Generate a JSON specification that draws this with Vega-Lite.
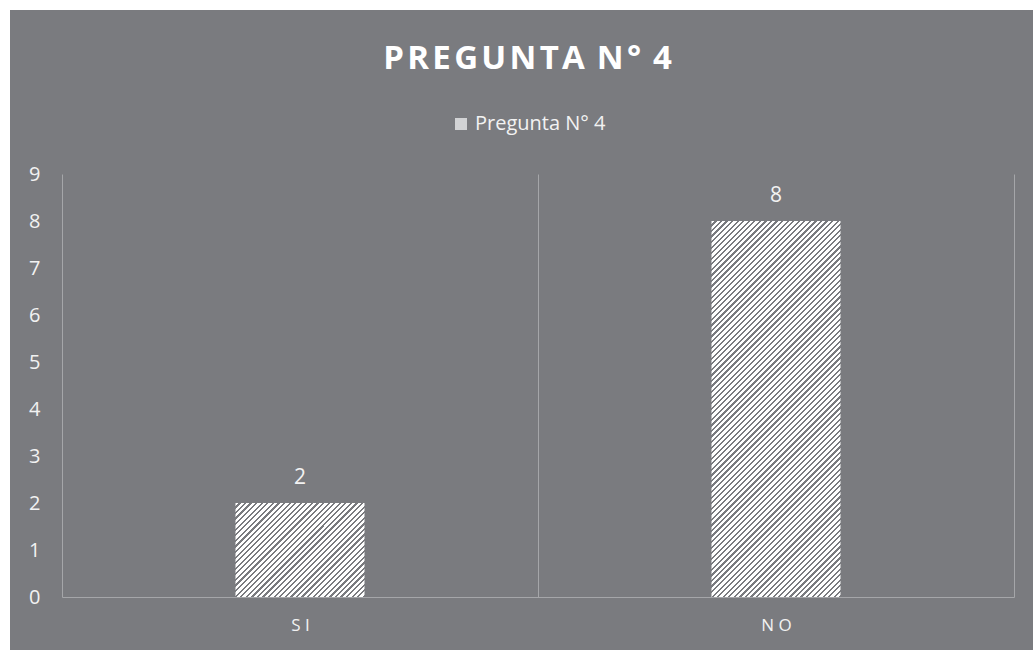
{
  "$schema": "https://vega.github.io/schema/vega-lite/v6.json",
  "width": 1023,
  "height": 640,
  "autosize": {"type": "none"},
  "padding": {"left": 10, "top": 10, "right": 0, "bottom": 0},
  "background": "#ffffff",
  "title": {
    "text": "P\u200aR\u200aE\u200aG\u200aU\u200aN\u200aT\u200aA\u200a N\u200a°\u200a 4",
    "font": "Open Sans",
    "fontSize": 33,
    "fontWeight": "bold",
    "color": "#ffffff",
    "anchor": "middle",
    "frame": "group",
    "baseline": "alphabetic",
    "offset": -92,
    "dx": 6
  },
  "data": {
    "values": [
      {"respuesta": "SI", "cantidad": 2},
      {"respuesta": "NO", "cantidad": 8}
    ]
  },
  "encoding": {
    "x": {
      "field": "respuesta", "type": "nominal",
      "scale": {"domain": ["SI", "NO"], "range": [52, 1004], "paddingInner": 0, "paddingOuter": 0},
      "axis": {
        "title": null, "orient": "top", "offset": -587,
        "domain": true, "domainColor": "#a5a6a9", "domainWidth": 1,
        "ticks": false, "grid": true, "gridColor": "#a5a6a9", "gridWidth": 1, "tickBand": "extent",
        "labelAngle": 0, "labelPadding": -20, "labelBaseline": "top",
        "labelFont": "Open Sans", "labelFontSize": 17, "labelColor": "#f2f2f2",
        "labelExpr": "join(split(datum.label, ''), ' ')"
      }
    },
    "y": {
      "field": "cantidad", "type": "quantitative",
      "scale": {"domain": [0, 9], "range": [587, 164], "nice": false, "zero": true},
      "axis": {
        "title": null, "orient": "left", "offset": -40,
        "domain": false, "ticks": false, "grid": false,
        "values": [0, 1, 2, 3, 4, 5, 6, 7, 8, 9],
        "labelPadding": 10,
        "labelFont": "Open Sans", "labelFontSize": 20, "labelColor": "#f2f2f2"
      }
    }
  },
  "layer": [
    {
      "mark": {"type": "bar", "width": {"band": 0.271}, "strokeWidth": 0},
      "encoding": {
        "color": {
          "datum": "Pregunta N° 4", "type": "nominal",
          "scale": {"range": ["#d2d3d5"]},
          "legend": {
            "title": null, "orient": "none", "legendX": 441, "legendY": 104,
            "padding": 0, "symbolType": "square", "symbolSize": 144,
            "symbolStrokeWidth": 0, "symbolOpacity": 1, "labelOffset": 4,
            "labelFont": "Open Sans", "labelFontSize": 20, "labelColor": "#f2f2f2"
          },
          "condition": [
            {
              "test": "datum.respuesta === 'SI'",
              "value": {
                "gradient": "linear", "x1": 0, "y1": 0, "x2": 1.12914, "y2": 0.82279,
                "stops": [
                  {"offset":0,"color":"#fff"},{"offset":0.015,"color":"#fff"},{"offset":0.015,"color":"#7a7b7f"},{"offset":0.025,"color":"#7a7b7f"},
                  {"offset":0.025,"color":"#fff"},{"offset":0.04,"color":"#fff"},{"offset":0.04,"color":"#7a7b7f"},{"offset":0.05,"color":"#7a7b7f"},
                  {"offset":0.05,"color":"#fff"},{"offset":0.065,"color":"#fff"},{"offset":0.065,"color":"#7a7b7f"},{"offset":0.075,"color":"#7a7b7f"},
                  {"offset":0.075,"color":"#fff"},{"offset":0.09,"color":"#fff"},{"offset":0.09,"color":"#7a7b7f"},{"offset":0.1,"color":"#7a7b7f"},
                  {"offset":0.1,"color":"#fff"},{"offset":0.115,"color":"#fff"},{"offset":0.115,"color":"#7a7b7f"},{"offset":0.125,"color":"#7a7b7f"},
                  {"offset":0.125,"color":"#fff"},{"offset":0.14,"color":"#fff"},{"offset":0.14,"color":"#7a7b7f"},{"offset":0.15,"color":"#7a7b7f"},
                  {"offset":0.15,"color":"#fff"},{"offset":0.165,"color":"#fff"},{"offset":0.165,"color":"#7a7b7f"},{"offset":0.175,"color":"#7a7b7f"},
                  {"offset":0.175,"color":"#fff"},{"offset":0.19,"color":"#fff"},{"offset":0.19,"color":"#7a7b7f"},{"offset":0.2,"color":"#7a7b7f"},
                  {"offset":0.2,"color":"#fff"},{"offset":0.215,"color":"#fff"},{"offset":0.215,"color":"#7a7b7f"},{"offset":0.225,"color":"#7a7b7f"},
                  {"offset":0.225,"color":"#fff"},{"offset":0.24,"color":"#fff"},{"offset":0.24,"color":"#7a7b7f"},{"offset":0.25,"color":"#7a7b7f"},
                  {"offset":0.25,"color":"#fff"},{"offset":0.265,"color":"#fff"},{"offset":0.265,"color":"#7a7b7f"},{"offset":0.275,"color":"#7a7b7f"},
                  {"offset":0.275,"color":"#fff"},{"offset":0.29,"color":"#fff"},{"offset":0.29,"color":"#7a7b7f"},{"offset":0.3,"color":"#7a7b7f"},
                  {"offset":0.3,"color":"#fff"},{"offset":0.315,"color":"#fff"},{"offset":0.315,"color":"#7a7b7f"},{"offset":0.325,"color":"#7a7b7f"},
                  {"offset":0.325,"color":"#fff"},{"offset":0.34,"color":"#fff"},{"offset":0.34,"color":"#7a7b7f"},{"offset":0.35,"color":"#7a7b7f"},
                  {"offset":0.35,"color":"#fff"},{"offset":0.365,"color":"#fff"},{"offset":0.365,"color":"#7a7b7f"},{"offset":0.375,"color":"#7a7b7f"},
                  {"offset":0.375,"color":"#fff"},{"offset":0.39,"color":"#fff"},{"offset":0.39,"color":"#7a7b7f"},{"offset":0.4,"color":"#7a7b7f"},
                  {"offset":0.4,"color":"#fff"},{"offset":0.415,"color":"#fff"},{"offset":0.415,"color":"#7a7b7f"},{"offset":0.425,"color":"#7a7b7f"},
                  {"offset":0.425,"color":"#fff"},{"offset":0.44,"color":"#fff"},{"offset":0.44,"color":"#7a7b7f"},{"offset":0.45,"color":"#7a7b7f"},
                  {"offset":0.45,"color":"#fff"},{"offset":0.465,"color":"#fff"},{"offset":0.465,"color":"#7a7b7f"},{"offset":0.475,"color":"#7a7b7f"},
                  {"offset":0.475,"color":"#fff"},{"offset":0.49,"color":"#fff"},{"offset":0.49,"color":"#7a7b7f"},{"offset":0.5,"color":"#7a7b7f"},
                  {"offset":0.5,"color":"#fff"},{"offset":0.515,"color":"#fff"},{"offset":0.515,"color":"#7a7b7f"},{"offset":0.525,"color":"#7a7b7f"},
                  {"offset":0.525,"color":"#fff"},{"offset":0.54,"color":"#fff"},{"offset":0.54,"color":"#7a7b7f"},{"offset":0.55,"color":"#7a7b7f"},
                  {"offset":0.55,"color":"#fff"},{"offset":0.565,"color":"#fff"},{"offset":0.565,"color":"#7a7b7f"},{"offset":0.575,"color":"#7a7b7f"},
                  {"offset":0.575,"color":"#fff"},{"offset":0.59,"color":"#fff"},{"offset":0.59,"color":"#7a7b7f"},{"offset":0.6,"color":"#7a7b7f"},
                  {"offset":0.6,"color":"#fff"},{"offset":0.615,"color":"#fff"},{"offset":0.615,"color":"#7a7b7f"},{"offset":0.625,"color":"#7a7b7f"},
                  {"offset":0.625,"color":"#fff"},{"offset":0.64,"color":"#fff"},{"offset":0.64,"color":"#7a7b7f"},{"offset":0.65,"color":"#7a7b7f"},
                  {"offset":0.65,"color":"#fff"},{"offset":0.665,"color":"#fff"},{"offset":0.665,"color":"#7a7b7f"},{"offset":0.675,"color":"#7a7b7f"},
                  {"offset":0.675,"color":"#fff"},{"offset":0.69,"color":"#fff"},{"offset":0.69,"color":"#7a7b7f"},{"offset":0.7,"color":"#7a7b7f"},
                  {"offset":0.7,"color":"#fff"},{"offset":0.715,"color":"#fff"},{"offset":0.715,"color":"#7a7b7f"},{"offset":0.725,"color":"#7a7b7f"},
                  {"offset":0.725,"color":"#fff"},{"offset":0.74,"color":"#fff"},{"offset":0.74,"color":"#7a7b7f"},{"offset":0.75,"color":"#7a7b7f"},
                  {"offset":0.75,"color":"#fff"},{"offset":0.765,"color":"#fff"},{"offset":0.765,"color":"#7a7b7f"},{"offset":0.775,"color":"#7a7b7f"},
                  {"offset":0.775,"color":"#fff"},{"offset":0.79,"color":"#fff"},{"offset":0.79,"color":"#7a7b7f"},{"offset":0.8,"color":"#7a7b7f"},
                  {"offset":0.8,"color":"#fff"},{"offset":0.815,"color":"#fff"},{"offset":0.815,"color":"#7a7b7f"},{"offset":0.825,"color":"#7a7b7f"},
                  {"offset":0.825,"color":"#fff"},{"offset":0.84,"color":"#fff"},{"offset":0.84,"color":"#7a7b7f"},{"offset":0.85,"color":"#7a7b7f"},
                  {"offset":0.85,"color":"#fff"},{"offset":0.865,"color":"#fff"},{"offset":0.865,"color":"#7a7b7f"},{"offset":0.875,"color":"#7a7b7f"},
                  {"offset":0.875,"color":"#fff"},{"offset":0.89,"color":"#fff"},{"offset":0.89,"color":"#7a7b7f"},{"offset":0.9,"color":"#7a7b7f"},
                  {"offset":0.9,"color":"#fff"},{"offset":0.915,"color":"#fff"},{"offset":0.915,"color":"#7a7b7f"},{"offset":0.925,"color":"#7a7b7f"},
                  {"offset":0.925,"color":"#fff"},{"offset":0.94,"color":"#fff"},{"offset":0.94,"color":"#7a7b7f"},{"offset":0.95,"color":"#7a7b7f"},
                  {"offset":0.95,"color":"#fff"},{"offset":0.965,"color":"#fff"},{"offset":0.965,"color":"#7a7b7f"},{"offset":0.975,"color":"#7a7b7f"},
                  {"offset":0.975,"color":"#fff"},{"offset":0.99,"color":"#fff"},{"offset":0.99,"color":"#7a7b7f"},{"offset":1,"color":"#7a7b7f"}
                ]
              }
            },
            {
              "test": "datum.respuesta === 'NO'",
              "value": {
                "gradient": "linear", "x1": 0, "y1": 0, "x2": 0.41227, "y2": 1.20165,
                "stops": [
                  {"offset":0,"color":"#fff"},{"offset":0.0066,"color":"#fff"},{"offset":0.0066,"color":"#7a7b7f"},{"offset":0.011,"color":"#7a7b7f"},
                  {"offset":0.011,"color":"#fff"},{"offset":0.0176,"color":"#fff"},{"offset":0.0176,"color":"#7a7b7f"},{"offset":0.022,"color":"#7a7b7f"},
                  {"offset":0.022,"color":"#fff"},{"offset":0.0286,"color":"#fff"},{"offset":0.0286,"color":"#7a7b7f"},{"offset":0.033,"color":"#7a7b7f"},
                  {"offset":0.033,"color":"#fff"},{"offset":0.0396,"color":"#fff"},{"offset":0.0396,"color":"#7a7b7f"},{"offset":0.044,"color":"#7a7b7f"},
                  {"offset":0.044,"color":"#fff"},{"offset":0.0506,"color":"#fff"},{"offset":0.0506,"color":"#7a7b7f"},{"offset":0.055,"color":"#7a7b7f"},
                  {"offset":0.055,"color":"#fff"},{"offset":0.0616,"color":"#fff"},{"offset":0.0616,"color":"#7a7b7f"},{"offset":0.066,"color":"#7a7b7f"},
                  {"offset":0.066,"color":"#fff"},{"offset":0.0726,"color":"#fff"},{"offset":0.0726,"color":"#7a7b7f"},{"offset":0.077,"color":"#7a7b7f"},
                  {"offset":0.077,"color":"#fff"},{"offset":0.0836,"color":"#fff"},{"offset":0.0836,"color":"#7a7b7f"},{"offset":0.088,"color":"#7a7b7f"},
                  {"offset":0.088,"color":"#fff"},{"offset":0.0946,"color":"#fff"},{"offset":0.0946,"color":"#7a7b7f"},{"offset":0.099,"color":"#7a7b7f"},
                  {"offset":0.099,"color":"#fff"},{"offset":0.1056,"color":"#fff"},{"offset":0.1056,"color":"#7a7b7f"},{"offset":0.11,"color":"#7a7b7f"},
                  {"offset":0.11,"color":"#fff"},{"offset":0.1166,"color":"#fff"},{"offset":0.1166,"color":"#7a7b7f"},{"offset":0.121,"color":"#7a7b7f"},
                  {"offset":0.121,"color":"#fff"},{"offset":0.1276,"color":"#fff"},{"offset":0.1276,"color":"#7a7b7f"},{"offset":0.132,"color":"#7a7b7f"},
                  {"offset":0.132,"color":"#fff"},{"offset":0.1386,"color":"#fff"},{"offset":0.1386,"color":"#7a7b7f"},{"offset":0.143,"color":"#7a7b7f"},
                  {"offset":0.143,"color":"#fff"},{"offset":0.1496,"color":"#fff"},{"offset":0.1496,"color":"#7a7b7f"},{"offset":0.154,"color":"#7a7b7f"},
                  {"offset":0.154,"color":"#fff"},{"offset":0.1606,"color":"#fff"},{"offset":0.1606,"color":"#7a7b7f"},{"offset":0.165,"color":"#7a7b7f"},
                  {"offset":0.165,"color":"#fff"},{"offset":0.1716,"color":"#fff"},{"offset":0.1716,"color":"#7a7b7f"},{"offset":0.176,"color":"#7a7b7f"},
                  {"offset":0.176,"color":"#fff"},{"offset":0.1826,"color":"#fff"},{"offset":0.1826,"color":"#7a7b7f"},{"offset":0.187,"color":"#7a7b7f"},
                  {"offset":0.187,"color":"#fff"},{"offset":0.1936,"color":"#fff"},{"offset":0.1936,"color":"#7a7b7f"},{"offset":0.198,"color":"#7a7b7f"},
                  {"offset":0.198,"color":"#fff"},{"offset":0.2046,"color":"#fff"},{"offset":0.2046,"color":"#7a7b7f"},{"offset":0.209,"color":"#7a7b7f"},
                  {"offset":0.209,"color":"#fff"},{"offset":0.2156,"color":"#fff"},{"offset":0.2156,"color":"#7a7b7f"},{"offset":0.22,"color":"#7a7b7f"},
                  {"offset":0.22,"color":"#fff"},{"offset":0.2266,"color":"#fff"},{"offset":0.2266,"color":"#7a7b7f"},{"offset":0.231,"color":"#7a7b7f"},
                  {"offset":0.231,"color":"#fff"},{"offset":0.2376,"color":"#fff"},{"offset":0.2376,"color":"#7a7b7f"},{"offset":0.242,"color":"#7a7b7f"},
                  {"offset":0.242,"color":"#fff"},{"offset":0.2486,"color":"#fff"},{"offset":0.2486,"color":"#7a7b7f"},{"offset":0.253,"color":"#7a7b7f"},
                  {"offset":0.253,"color":"#fff"},{"offset":0.2596,"color":"#fff"},{"offset":0.2596,"color":"#7a7b7f"},{"offset":0.264,"color":"#7a7b7f"},
                  {"offset":0.264,"color":"#fff"},{"offset":0.2706,"color":"#fff"},{"offset":0.2706,"color":"#7a7b7f"},{"offset":0.275,"color":"#7a7b7f"},
                  {"offset":0.275,"color":"#fff"},{"offset":0.2816,"color":"#fff"},{"offset":0.2816,"color":"#7a7b7f"},{"offset":0.286,"color":"#7a7b7f"},
                  {"offset":0.286,"color":"#fff"},{"offset":0.2926,"color":"#fff"},{"offset":0.2926,"color":"#7a7b7f"},{"offset":0.297,"color":"#7a7b7f"},
                  {"offset":0.297,"color":"#fff"},{"offset":0.3036,"color":"#fff"},{"offset":0.3036,"color":"#7a7b7f"},{"offset":0.308,"color":"#7a7b7f"},
                  {"offset":0.308,"color":"#fff"},{"offset":0.3146,"color":"#fff"},{"offset":0.3146,"color":"#7a7b7f"},{"offset":0.319,"color":"#7a7b7f"},
                  {"offset":0.319,"color":"#fff"},{"offset":0.3256,"color":"#fff"},{"offset":0.3256,"color":"#7a7b7f"},{"offset":0.33,"color":"#7a7b7f"},
                  {"offset":0.33,"color":"#fff"},{"offset":0.3366,"color":"#fff"},{"offset":0.3366,"color":"#7a7b7f"},{"offset":0.341,"color":"#7a7b7f"},
                  {"offset":0.341,"color":"#fff"},{"offset":0.3476,"color":"#fff"},{"offset":0.3476,"color":"#7a7b7f"},{"offset":0.352,"color":"#7a7b7f"},
                  {"offset":0.352,"color":"#fff"},{"offset":0.3586,"color":"#fff"},{"offset":0.3586,"color":"#7a7b7f"},{"offset":0.363,"color":"#7a7b7f"},
                  {"offset":0.363,"color":"#fff"},{"offset":0.3696,"color":"#fff"},{"offset":0.3696,"color":"#7a7b7f"},{"offset":0.374,"color":"#7a7b7f"},
                  {"offset":0.374,"color":"#fff"},{"offset":0.3806,"color":"#fff"},{"offset":0.3806,"color":"#7a7b7f"},{"offset":0.385,"color":"#7a7b7f"},
                  {"offset":0.385,"color":"#fff"},{"offset":0.3916,"color":"#fff"},{"offset":0.3916,"color":"#7a7b7f"},{"offset":0.396,"color":"#7a7b7f"},
                  {"offset":0.396,"color":"#fff"},{"offset":0.4026,"color":"#fff"},{"offset":0.4026,"color":"#7a7b7f"},{"offset":0.407,"color":"#7a7b7f"},
                  {"offset":0.407,"color":"#fff"},{"offset":0.4136,"color":"#fff"},{"offset":0.4136,"color":"#7a7b7f"},{"offset":0.418,"color":"#7a7b7f"},
                  {"offset":0.418,"color":"#fff"},{"offset":0.4246,"color":"#fff"},{"offset":0.4246,"color":"#7a7b7f"},{"offset":0.429,"color":"#7a7b7f"},
                  {"offset":0.429,"color":"#fff"},{"offset":0.4356,"color":"#fff"},{"offset":0.4356,"color":"#7a7b7f"},{"offset":0.44,"color":"#7a7b7f"},
                  {"offset":0.44,"color":"#fff"},{"offset":0.4466,"color":"#fff"},{"offset":0.4466,"color":"#7a7b7f"},{"offset":0.451,"color":"#7a7b7f"},
                  {"offset":0.451,"color":"#fff"},{"offset":0.4576,"color":"#fff"},{"offset":0.4576,"color":"#7a7b7f"},{"offset":0.462,"color":"#7a7b7f"},
                  {"offset":0.462,"color":"#fff"},{"offset":0.4686,"color":"#fff"},{"offset":0.4686,"color":"#7a7b7f"},{"offset":0.473,"color":"#7a7b7f"},
                  {"offset":0.473,"color":"#fff"},{"offset":0.4796,"color":"#fff"},{"offset":0.4796,"color":"#7a7b7f"},{"offset":0.484,"color":"#7a7b7f"},
                  {"offset":0.484,"color":"#fff"},{"offset":0.4906,"color":"#fff"},{"offset":0.4906,"color":"#7a7b7f"},{"offset":0.495,"color":"#7a7b7f"},
                  {"offset":0.495,"color":"#fff"},{"offset":0.5016,"color":"#fff"},{"offset":0.5016,"color":"#7a7b7f"},{"offset":0.506,"color":"#7a7b7f"},
                  {"offset":0.506,"color":"#fff"},{"offset":0.5126,"color":"#fff"},{"offset":0.5126,"color":"#7a7b7f"},{"offset":0.517,"color":"#7a7b7f"},
                  {"offset":0.517,"color":"#fff"},{"offset":0.5236,"color":"#fff"},{"offset":0.5236,"color":"#7a7b7f"},{"offset":0.528,"color":"#7a7b7f"},
                  {"offset":0.528,"color":"#fff"},{"offset":0.5346,"color":"#fff"},{"offset":0.5346,"color":"#7a7b7f"},{"offset":0.539,"color":"#7a7b7f"},
                  {"offset":0.539,"color":"#fff"},{"offset":0.5456,"color":"#fff"},{"offset":0.5456,"color":"#7a7b7f"},{"offset":0.55,"color":"#7a7b7f"},
                  {"offset":0.55,"color":"#fff"},{"offset":0.5566,"color":"#fff"},{"offset":0.5566,"color":"#7a7b7f"},{"offset":0.561,"color":"#7a7b7f"},
                  {"offset":0.561,"color":"#fff"},{"offset":0.5676,"color":"#fff"},{"offset":0.5676,"color":"#7a7b7f"},{"offset":0.572,"color":"#7a7b7f"},
                  {"offset":0.572,"color":"#fff"},{"offset":0.5786,"color":"#fff"},{"offset":0.5786,"color":"#7a7b7f"},{"offset":0.583,"color":"#7a7b7f"},
                  {"offset":0.583,"color":"#fff"},{"offset":0.5896,"color":"#fff"},{"offset":0.5896,"color":"#7a7b7f"},{"offset":0.594,"color":"#7a7b7f"},
                  {"offset":0.594,"color":"#fff"},{"offset":0.6006,"color":"#fff"},{"offset":0.6006,"color":"#7a7b7f"},{"offset":0.605,"color":"#7a7b7f"},
                  {"offset":0.605,"color":"#fff"},{"offset":0.6116,"color":"#fff"},{"offset":0.6116,"color":"#7a7b7f"},{"offset":0.616,"color":"#7a7b7f"},
                  {"offset":0.616,"color":"#fff"},{"offset":0.6226,"color":"#fff"},{"offset":0.6226,"color":"#7a7b7f"},{"offset":0.627,"color":"#7a7b7f"},
                  {"offset":0.627,"color":"#fff"},{"offset":0.6336,"color":"#fff"},{"offset":0.6336,"color":"#7a7b7f"},{"offset":0.638,"color":"#7a7b7f"},
                  {"offset":0.638,"color":"#fff"},{"offset":0.6446,"color":"#fff"},{"offset":0.6446,"color":"#7a7b7f"},{"offset":0.649,"color":"#7a7b7f"},
                  {"offset":0.649,"color":"#fff"},{"offset":0.6556,"color":"#fff"},{"offset":0.6556,"color":"#7a7b7f"},{"offset":0.66,"color":"#7a7b7f"},
                  {"offset":0.66,"color":"#fff"},{"offset":0.6666,"color":"#fff"},{"offset":0.6666,"color":"#7a7b7f"},{"offset":0.671,"color":"#7a7b7f"},
                  {"offset":0.671,"color":"#fff"},{"offset":0.6776,"color":"#fff"},{"offset":0.6776,"color":"#7a7b7f"},{"offset":0.682,"color":"#7a7b7f"},
                  {"offset":0.682,"color":"#fff"},{"offset":0.6886,"color":"#fff"},{"offset":0.6886,"color":"#7a7b7f"},{"offset":0.693,"color":"#7a7b7f"},
                  {"offset":0.693,"color":"#fff"},{"offset":0.6996,"color":"#fff"},{"offset":0.6996,"color":"#7a7b7f"},{"offset":0.704,"color":"#7a7b7f"},
                  {"offset":0.704,"color":"#fff"},{"offset":0.7106,"color":"#fff"},{"offset":0.7106,"color":"#7a7b7f"},{"offset":0.715,"color":"#7a7b7f"},
                  {"offset":0.715,"color":"#fff"},{"offset":0.7216,"color":"#fff"},{"offset":0.7216,"color":"#7a7b7f"},{"offset":0.726,"color":"#7a7b7f"},
                  {"offset":0.726,"color":"#fff"},{"offset":0.7326,"color":"#fff"},{"offset":0.7326,"color":"#7a7b7f"},{"offset":0.737,"color":"#7a7b7f"},
                  {"offset":0.737,"color":"#fff"},{"offset":0.7436,"color":"#fff"},{"offset":0.7436,"color":"#7a7b7f"},{"offset":0.748,"color":"#7a7b7f"},
                  {"offset":0.748,"color":"#fff"},{"offset":0.7546,"color":"#fff"},{"offset":0.7546,"color":"#7a7b7f"},{"offset":0.759,"color":"#7a7b7f"},
                  {"offset":0.759,"color":"#fff"},{"offset":0.7656,"color":"#fff"},{"offset":0.7656,"color":"#7a7b7f"},{"offset":0.77,"color":"#7a7b7f"},
                  {"offset":0.77,"color":"#fff"},{"offset":0.7766,"color":"#fff"},{"offset":0.7766,"color":"#7a7b7f"},{"offset":0.781,"color":"#7a7b7f"},
                  {"offset":0.781,"color":"#fff"},{"offset":0.7876,"color":"#fff"},{"offset":0.7876,"color":"#7a7b7f"},{"offset":0.792,"color":"#7a7b7f"},
                  {"offset":0.792,"color":"#fff"},{"offset":0.7986,"color":"#fff"},{"offset":0.7986,"color":"#7a7b7f"},{"offset":0.803,"color":"#7a7b7f"},
                  {"offset":0.803,"color":"#fff"},{"offset":0.8096,"color":"#fff"},{"offset":0.8096,"color":"#7a7b7f"},{"offset":0.814,"color":"#7a7b7f"},
                  {"offset":0.814,"color":"#fff"},{"offset":0.8206,"color":"#fff"},{"offset":0.8206,"color":"#7a7b7f"},{"offset":0.825,"color":"#7a7b7f"},
                  {"offset":0.825,"color":"#fff"},{"offset":0.8316,"color":"#fff"},{"offset":0.8316,"color":"#7a7b7f"},{"offset":0.836,"color":"#7a7b7f"},
                  {"offset":0.836,"color":"#fff"},{"offset":0.8426,"color":"#fff"},{"offset":0.8426,"color":"#7a7b7f"},{"offset":0.847,"color":"#7a7b7f"},
                  {"offset":0.847,"color":"#fff"},{"offset":0.8536,"color":"#fff"},{"offset":0.8536,"color":"#7a7b7f"},{"offset":0.858,"color":"#7a7b7f"},
                  {"offset":0.858,"color":"#fff"},{"offset":0.8646,"color":"#fff"},{"offset":0.8646,"color":"#7a7b7f"},{"offset":0.869,"color":"#7a7b7f"},
                  {"offset":0.869,"color":"#fff"},{"offset":0.8756,"color":"#fff"},{"offset":0.8756,"color":"#7a7b7f"},{"offset":0.88,"color":"#7a7b7f"},
                  {"offset":0.88,"color":"#fff"},{"offset":0.8866,"color":"#fff"},{"offset":0.8866,"color":"#7a7b7f"},{"offset":0.891,"color":"#7a7b7f"},
                  {"offset":0.891,"color":"#fff"},{"offset":0.8976,"color":"#fff"},{"offset":0.8976,"color":"#7a7b7f"},{"offset":0.902,"color":"#7a7b7f"},
                  {"offset":0.902,"color":"#fff"},{"offset":0.9086,"color":"#fff"},{"offset":0.9086,"color":"#7a7b7f"},{"offset":0.913,"color":"#7a7b7f"},
                  {"offset":0.913,"color":"#fff"},{"offset":0.9196,"color":"#fff"},{"offset":0.9196,"color":"#7a7b7f"},{"offset":0.924,"color":"#7a7b7f"},
                  {"offset":0.924,"color":"#fff"},{"offset":0.9306,"color":"#fff"},{"offset":0.9306,"color":"#7a7b7f"},{"offset":0.935,"color":"#7a7b7f"},
                  {"offset":0.935,"color":"#fff"},{"offset":0.9416,"color":"#fff"},{"offset":0.9416,"color":"#7a7b7f"},{"offset":0.946,"color":"#7a7b7f"},
                  {"offset":0.946,"color":"#fff"},{"offset":0.9526,"color":"#fff"},{"offset":0.9526,"color":"#7a7b7f"},{"offset":0.957,"color":"#7a7b7f"},
                  {"offset":0.957,"color":"#fff"},{"offset":0.9636,"color":"#fff"},{"offset":0.9636,"color":"#7a7b7f"},{"offset":0.968,"color":"#7a7b7f"},
                  {"offset":0.968,"color":"#fff"},{"offset":0.9746,"color":"#fff"},{"offset":0.9746,"color":"#7a7b7f"},{"offset":0.979,"color":"#7a7b7f"},
                  {"offset":0.979,"color":"#fff"},{"offset":0.9856,"color":"#fff"},{"offset":0.9856,"color":"#7a7b7f"},{"offset":0.99,"color":"#7a7b7f"},
                  {"offset":0.99,"color":"#fff"},{"offset":0.9966,"color":"#fff"},{"offset":0.9966,"color":"#7a7b7f"},{"offset":1,"color":"#7a7b7f"}
                ]
              }
            }
          ]
        }
      }
    },
    {
      "mark": {"type": "text", "baseline": "alphabetic", "dy": -19, "font": "Open Sans", "fontSize": 21, "color": "#f2f2f2"},
      "encoding": {
        "text": {"field": "cantidad", "type": "quantitative"}
      }
    }
  ],
  "config": {
    "view": {"fill": "#7a7b7f", "stroke": null}
  }
}
